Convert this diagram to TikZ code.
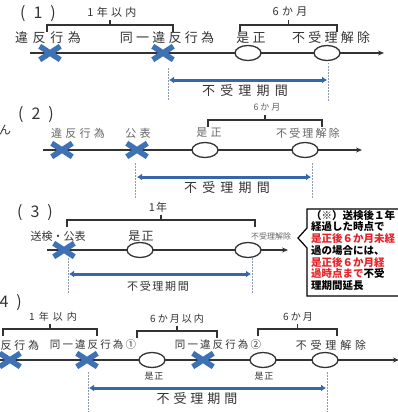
\documentclass[tikz,border=0pt]{standalone}
\usepackage{fontspec}
\setmainfont{Noto Sans CJK JP}
\usetikzlibrary{
    shapes.geometric,
    shapes.misc,
    arrows.meta,
    positioning,
}
\definecolor{markblu}{HTML}{3E72B5}
\definecolor{spanblu}{HTML}{3767A8}
\definecolor{lineblk}{HTML}{333333}
\definecolor{lightgr}{HTML}{666666}
\definecolor{guidegr}{HTML}{8C9CB2}
\definecolor{notered}{HTML}{E5242A}
\newcommand{\jpf}[2]{\fontsize{#1}{#1}\selectfont\addfontfeature{LetterSpace=#2}}
\newcommand{\spanbrk}[3]{%
  \draw[brk] (#1,#3+7) -- (#1,#3) -- (#2,#3) -- (#2,#3+7)
             ({(#1+#2)/2},#3) -- ({(#1+#2)/2},#3-5);}

\begin{document}
\begin{tikzpicture}[
    x=1pt, y=-1pt,
    xmark/.style = {cross out, draw=markblu, line width=5.5pt,
                    minimum width=15pt, minimum height=8pt, inner sep=0pt},
    omark/.style = {ellipse, draw=lineblk, line width=1.3pt, fill=white,
                    minimum width=26pt, minimum height=15pt, inner sep=0pt},
    tline/.style = {draw=lineblk, line width=1.2pt,
                    -{Stealth[length=6pt,width=5pt]}},
    guide/.style = {draw=guidegr, line width=0.8pt,
                    dash pattern=on 1.5pt off 1.5pt},
    span/.style  = {draw=spanblu, line width=3pt,
                    {Latex[length=5pt,width=7pt]}-{Latex[length=5pt,width=7pt]}},
    brk/.style   = {draw=lineblk, line width=1.1pt},
    txt/.style   = {text=lineblk, inner sep=0pt},
    note/.style  = {draw=black, line width=1.2pt, fill=white},
]
\useasboundingbox (0,0) rectangle (398,412);
\fill[white] (0,0) rectangle (398,412);
\clip (0,0) rectangle (398,412);

%% ── (1) ──────────────────────────────────────────────────────────────────────
\node[txt, font=\jpf{16}{50}] (h1) at (38,14) {(1)};
\node[txt, font=\jpf{11}{30}] (p1a) at (112,12) {1年以内};
\node[txt, font=\jpf{11}{30}] (p1b) at (290,12) {6か月};
\spanbrk{47}{173}{25}
\spanbrk{240}{337}{25}

\node[txt, font=\jpf{13}{35}] (l1a) at (48,38) {違反行為};
\node[txt, font=\jpf{13}{25}] (l1b) at (167,38) {同一違反行為};
\node[txt, font=\jpf{13}{25}] (l1c) at (251,38) {是正};
\node[txt, font=\jpf{13}{25}] (l1d) at (331,38) {不受理解除};

\coordinate (t1s) at (30,53);
\coordinate (t1e) at (384,53);
\draw[tline] (t1s) -- (t1e);
\node[xmark] (x1a) at (50,53) {};
\node[xmark] (x1b) at (163,53) {};
\node[omark] (o1a) at (248,53) {};
\node[omark] (o1b) at (327,53) {};

\coordinate (g1a) at (168,68);  \coordinate (g1b) at (168,101);
\coordinate (g1c) at (328,63);  \coordinate (g1d) at (328,101);
\draw[guide] (g1a) -- (g1b);
\draw[guide] (g1c) -- (g1d);
\coordinate (s1a) at (169,80);  \coordinate (s1b) at (327,80);
\draw[span] (s1a) -- (s1b);
\node[txt, font=\jpf{13}{40}] (k1) at (245,91) {不受理期間};

%% ── (2) ──────────────────────────────────────────────────────────────────────
\node[txt, font=\jpf{16}{50}] (h2) at (36,115) {(2)};
\node[txt, font=\jpf{12}{0}] (cut2) at (5,130) {ん};
\node[txt, text=lightgr, font=\jpf{9}{20}] (p2a) at (267,107) {6か月};
\spanbrk{208}{322}{120}

\node[txt, text=lightgr, font=\jpf{11}{30}] (l2a) at (78,133) {違反行為};
\node[txt, text=lightgr, font=\jpf{11}{30}] (l2b) at (138,133) {公表};
\node[txt, text=lightgr, font=\jpf{11}{30}] (l2c) at (209,133) {是正};
\node[txt, text=lightgr, font=\jpf{11}{20}] (l2d) at (308,133) {不受理解除};

\coordinate (t2s) at (43,150);
\coordinate (t2e) at (362,150);
\draw[tline] (t2s) -- (t2e);
\node[xmark] (x2a) at (62,150) {};
\node[xmark] (x2b) at (137,150) {};
\node[omark] (o2a) at (205,150) {};
\node[omark] (o2b) at (305,150) {};

\coordinate (g2a) at (135,163);  \coordinate (g2b) at (135,198);
\coordinate (g2c) at (312,163);  \coordinate (g2d) at (312,198);
\draw[guide] (g2a) -- (g2b);
\draw[guide] (g2c) -- (g2d);
\coordinate (s2a) at (137,177);  \coordinate (s2b) at (311,177);
\draw[span] (s2a) -- (s2b);
\node[txt, font=\jpf{13}{40}] (k2) at (227,188) {不受理期間};

%% ── (3) ──────────────────────────────────────────────────────────────────────
\node[txt, font=\jpf{16}{50}] (h3) at (35,213) {(3)};
\node[txt, font=\jpf{11}{10}] (p3a) at (158,207) {1年};
\spanbrk{67}{255}{220}

\node[txt, font=\jpf{11}{0}] (l3a) at (58,236) {送検・公表};
\node[txt, font=\jpf{12}{10}] (l3b) at (141,236) {是正};
\node[txt, text=lightgr, font=\jpf{8}{0}] (l3c) at (271,236) {不受理解除};

\coordinate (t3s) at (47,250);
\coordinate (t3e) at (288,250);
\draw[tline] (t3s) -- (t3e);
\node[xmark] (x3a) at (64,250) {};
\node[omark] (o3a) at (140,250) {};
\node[omark] (o3b) at (248,250) {};

\coordinate (g3a) at (68,258);   \coordinate (g3b) at (68,293);
\coordinate (g3c) at (252,258);  \coordinate (g3d) at (252,293);
\draw[guide] (g3a) -- (g3b);
\draw[guide] (g3c) -- (g3d);
\coordinate (s3a) at (69,274);   \coordinate (s3b) at (251,274);
\draw[span] (s3a) -- (s3b);
\node[txt, font=\jpf{11}{15}] (k3) at (158,286) {不受理期間};

%% ── Note box ─────────────────────────────────────────────────────────────────
\draw[note] (307,209) -- (410,209) -- (410,296) -- (307,296)
            -- (307,248) -- (298,238) -- (307,228) -- cycle;
\node[txt, text=black, anchor=north west, align=left,
      font=\fontsize{10.5}{11.7}\selectfont\bfseries] (nt) at (311,210)
  {（※）送検後１年\\
   経過した時点で\\
   \textcolor{notered}{是正後６か月未経}\\
   過の場合には、\\
   \textcolor{notered}{是正後６か月経}\\
   \textcolor{notered}{過時点まで}不受\\
   理期間延長};

%% ── (4) ──────────────────────────────────────────────────────────────────────
\node[txt, font=\jpf{16}{50}] (h4) at (4,303) {(4)};
\node[txt, font=\jpf{10}{40}] (p4a) at (53,317) {1年以内};
\node[txt, font=\jpf{10}{20}] (p4b) at (177,319) {6か月以内};
\node[txt, font=\jpf{10}{20}] (p4c) at (298,317) {6か月};
\spanbrk{3}{97}{329}
\spanbrk{137}{217}{331}
\spanbrk{258}{337}{329}

\node[txt, font=\jpf{11}{25}] (l4a) at (13,345) {違反行為};
\node[txt, font=\jpf{10.5}{20}] (l4b) at (93,345) {同一違反行為①};
\node[txt, font=\jpf{10.5}{20}] (l4c) at (218,345) {同一違反行為②};
\node[txt, font=\jpf{11}{35}] (l4d) at (331,345) {不受理解除};

\coordinate (t4s) at (-5,360);
\coordinate (t4e) at (399,360);
\draw[tline] (t4s) -- (t4e);
\node[xmark] (x4a) at (10,360) {};
\node[xmark] (x4b) at (87,360) {};
\node[omark] (o4a) at (152,360) {};
\node[xmark] (x4c) at (203,360) {};
\node[omark] (o4b) at (263,360) {};
\node[omark] (o4c) at (325,360) {};
\node[txt, font=\jpf{9}{10}] (z4a) at (154,376) {是正};
\node[txt, font=\jpf{9}{10}] (z4b) at (264,376) {是正};

\coordinate (g4a) at (88,372);   \coordinate (g4b) at (88,412);
\coordinate (g4c) at (327,372);  \coordinate (g4d) at (327,412);
\draw[guide] (g4a) -- (g4b);
\draw[guide] (g4c) -- (g4d);
\coordinate (s4a) at (89,388);   \coordinate (s4b) at (326,388);
\draw[span] (s4a) -- (s4b);
\node[txt, font=\jpf{13}{30}] (k4) at (197,399) {不受理期間};

\end{tikzpicture}
\end{document}
